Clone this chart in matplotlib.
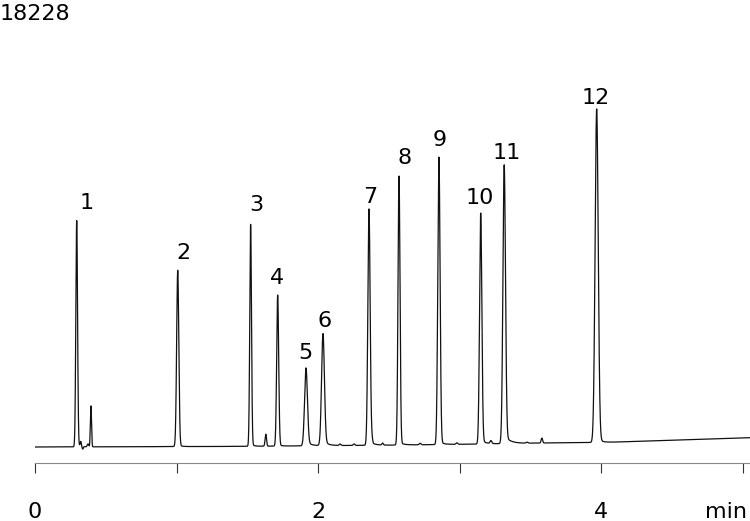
import numpy as np
import matplotlib.pyplot as plt

# Peak table (time in min, height in counts)
peak_rt = [0.2945, 1.008, 1.523, 1.714, 1.914, 2.034,
           2.359, 2.571, 2.853, 3.148, 3.314, 3.967]
peak_height = [9230, 7190, 9050, 6160, 3180, 4570,
               9640, 10970, 11720, 9420, 11370, 13600]
peak_sigma = [0.006, 0.0075, 0.006, 0.007, 0.010, 0.010,
              0.008, 0.007, 0.008, 0.008, 0.009, 0.011]
peak_tail = [0.01, 0.01, 0.01, 0.01, 0.06, 0.05,
             0.02, 0.01, 0.01, 0.02, 0.03, 0.012]
peak_tau = [0.02, 0.02, 0.02, 0.02, 0.03, 0.03,
            0.03, 0.03, 0.03, 0.03, 0.04, 0.03]
peak_names = ["1", "2", "3", "4", "5", "6", "7", "8", "9", "10", "11", "12"]

# small unlabelled bumps and dips
minor_rt = [0.323, 0.337, 0.374, 0.395, 1.63, 2.155, 2.254,
            2.38, 2.455, 2.72, 2.98, 3.22, 3.475, 3.58]
minor_height = [200, -100, 120, 1670, 490, 60, 60,
                160, 80, 60, 60, 120, 40, 200]
minor_sigma = [0.004, 0.004, 0.005, 0.004, 0.005, 0.006, 0.006,
               0.005, 0.005, 0.006, 0.006, 0.006, 0.006, 0.005]

# baseline drift (min, counts)
drift_t = [0.0, 1.45, 2.58, 3.14, 3.6, 4.04, 5.05]
drift_y = [0, 25, 80, 120, 165, 190, 380]

full_scale = 18228
x_ticks = [0, 1, 2, 3, 4, 5]
x_ticklabels = ["0", "", "2", "", "4", ""]

# label offsets in pixels (dx, gap above peak top)
label_dx = [10, 6, 6, -1, -0.5, 2, 1.5, 6, 1, -1, 2, -0.5]
label_gap = [12, 11, 13, 11, 9, 7, 6, 12, 11, 9, 6, 5]

t = np.linspace(0, 5.05, 30000)
signal = np.interp(t, drift_t, drift_y)
for rt, h, sd, a, tau in zip(peak_rt, peak_height, peak_sigma, peak_tail, peak_tau):
    g = np.exp(-0.5 * ((t - rt) / sd) ** 2)
    tail = np.where(t > rt, np.exp(-np.clip(t - rt, 0, None) / tau), 0) * (1 - g)
    signal += h * (g + a * tail)
for rt, h, sd in zip(minor_rt, minor_height, minor_sigma):
    signal += h * np.exp(-0.5 * ((t - rt) / sd) ** 2)

fig = plt.figure(figsize=(7.5, 5.21), dpi=100)
ax = fig.add_axes([35 / 750, 58 / 521, 1 - 35 / 750, 463 / 521])
ax.plot(t, signal, color="#111111", linewidth=0.9)

ax.set_xlim(0, 5.05)
ax.set_ylim(-16 * full_scale / 447, full_scale)

for name, rt, h, dx, gap in zip(peak_names, peak_rt, peak_height, label_dx, label_gap):
    top = h + np.interp(rt, drift_t, drift_y)
    ax.annotate(name, (rt, top), xytext=(dx, gap), textcoords="offset pixels",
                ha="center", va="baseline", fontsize=16)

for side in ["top", "right", "left"]:
    ax.spines[side].set_visible(False)
ax.spines["bottom"].set_color("#888888")
ax.set_yticks([])
ax.set_xticks(x_ticks)
ax.set_xticklabels(x_ticklabels)
ax.set_xticks([0], minor=True)
ax.tick_params(axis="x", which="major", length=7.2, color="#333333",
               labelsize=16, pad=21)
ax.tick_params(axis="x", which="minor", length=15, color="#333333")

# axis unit, sitting on the tick label line
ax.text(4.735, -55 / 463, "min", fontsize=16, ha="left", va="baseline",
        transform=ax.get_xaxis_transform())

fig.text(0, 1 - 20 / 521, str(full_scale), fontsize=16, ha="left", va="baseline")

fig.savefig("out.png", dpi=100)
